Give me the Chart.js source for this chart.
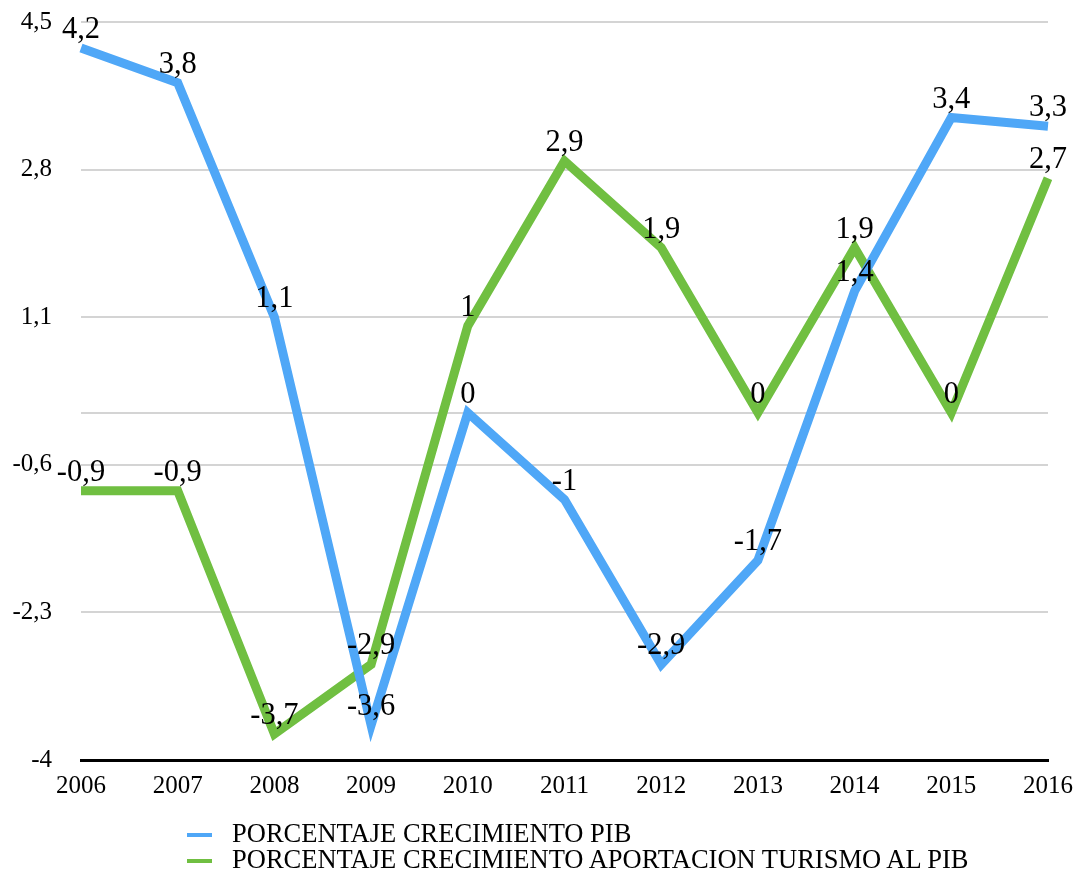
<!DOCTYPE html>
<html>
<head>
<meta charset="utf-8">
<title>Crecimiento PIB y turismo</title>
<script src="https://cdn.jsdelivr.net/npm/chart.js@4/dist/chart.umd.min.js"></script>
<style>
  body { margin: 0; background: #fff; }
  #contenedor { position: relative; width: 1084px; height: 876px; }
  #grafico { position: absolute; left: 0; top: 0; }
  .fila { position: absolute; left: 232px; font: 26.5px 'Liberation Serif', 'Times New Roman', serif; line-height: 26px; color: #000; white-space: nowrap; }
  .marca { position: absolute; left: 187px; width: 25px; height: 4px; }
</style>
</head>
<body>
<div id="contenedor">
  <canvas id="grafico" width="1084" height="876"></canvas>
  <div id="leyenda"></div>
</div>
<script>
const anios = ['2006', '2007', '2008', '2009', '2010', '2011', '2012', '2013', '2014', '2015', '2016'];
const pib = [4.2, 3.8, 1.1, -3.6, 0, -1, -2.9, -1.7, 1.4, 3.4, 3.3];
const turismo = [-0.9, -0.9, -3.7, -2.9, 1, 2.9, 1.9, 0, 1.9, 0, 2.7];
const marcasY = [-4, -2.3, -0.6, 0, 1.1, 2.8, 4.5];
const nombres = ['PORCENTAJE CRECIMIENTO PIB', 'PORCENTAJE CRECIMIENTO APORTACION TURISMO AL PIB'];
const colores = ['#4fa7f7', '#70bf41'];

const fuente = "'Liberation Serif', 'Times New Roman', serif";
const coma = v => String(v).replace('.', ',');

// etiquetas de valor encima de cada punto
const etiquetas = {
  id: 'etiquetas',
  afterDatasetsDraw(chart) {
    const ctx = chart.ctx;
    ctx.save();
    ctx.font = `30.5px ${fuente}`;
    ctx.fillStyle = '#000';
    ctx.textAlign = 'center';
    ctx.textBaseline = 'alphabetic';
    chart.data.datasets.forEach((ds, i) => {
      chart.getDatasetMeta(i).data.forEach((p, j) => {
        ctx.fillText(coma(ds.data[j]), p.x, p.y - 10);
      });
    });
    ctx.restore();
  }
};

const ctx = document.getElementById('grafico').getContext('2d');
new Chart(ctx, {
  type: 'line',
  data: {
    labels: anios,
    datasets: [
      { label: nombres[0], data: pib, borderColor: colores[0], backgroundColor: colores[0], borderWidth: 9 },
      { label: nombres[1], data: turismo, borderColor: colores[1], backgroundColor: colores[1], borderWidth: 9 }
    ]
  },
  options: {
    responsive: false,
    animation: false,
    layout: { padding: { top: 22, right: 34, left: 0, bottom: 0 } },
    elements: { point: { radius: 0 }, line: { tension: 0 } },
    plugins: {
      legend: { display: false },
      tooltip: { enabled: false }
    },
    scales: {
      x: {
        offset: false,
        grid: { display: false, drawTicks: false },
        border: { color: '#000', width: 3 },
        ticks: { color: '#000', font: { family: fuente, size: 25 }, padding: 11, maxRotation: 0, autoSkip: false },
        afterFit: s => { s.height = 116; }
      },
      y: {
        min: -4,
        max: 4.5,
        afterBuildTicks: s => { s.ticks = marcasY.map(v => ({ value: v })); },
        // espacio entre etiquetas y área con marcas invisibles
        grid: { color: '#d4d4d4', lineWidth: 2, drawTicks: true, tickLength: 29, tickColor: 'rgba(0,0,0,0)' },
        border: { display: false },
        ticks: {
          color: '#000',
          font: { family: fuente, size: 25 },
          padding: 0,
          callback: v => v === 0 ? '' : coma(v)
        },
        afterFit: s => { s.width = 81; }
      }
    }
  },
  plugins: [etiquetas]
});

// leyenda en dos filas alineadas a la izquierda
const leyenda = document.getElementById('leyenda');
nombres.forEach((n, i) => {
  const m = document.createElement('div');
  m.className = 'marca';
  m.style.top = (833 + i * 26) + 'px';
  m.style.background = colores[i];
  leyenda.appendChild(m);
  const f = document.createElement('div');
  f.className = 'fila';
  f.style.top = (820 + i * 26) + 'px';
  f.textContent = n;
  leyenda.appendChild(f);
});
</script>
</body>
</html>
